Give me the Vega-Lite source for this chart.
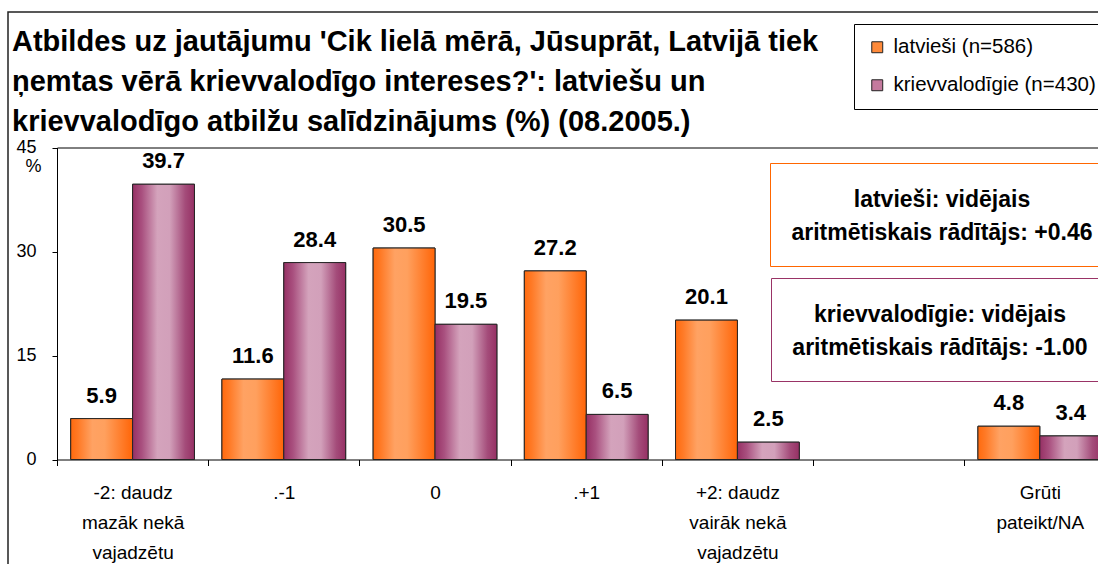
{
  "$schema": "https://vega.github.io/schema/vega-lite/v6.json",
  "width": 1091,
  "height": 553,
  "autosize": {"type": "none"},
  "padding": {"left": 8, "top": 12, "right": -1, "bottom": -1},
  "background": "white",
  "title": {
    "text": [
      "Atbildes uz jautājumu 'Cik lielā mērā, Jūsuprāt, Latvijā tiek",
      "ņemtas vērā krievvalodīgo intereses?': latviešu un",
      "krievvalodīgo atbilžu salīdzinājums (%) (08.2005.)"
    ],
    "anchor": "start",
    "frame": "group",
    "orient": "top",
    "offset": 0,
    "dx": 4,
    "dy": 125,
    "baseline": "top",
    "fontSize": 29,
    "fontWeight": "bold",
    "font": "Liberation Sans",
    "lineHeight": 40,
    "color": "#000"
  },
  "datasets": {
    "bars": [
      {"cat": "-2: daudz|mazāk nekā|vajadzētu", "group": "latvieši (n=586)", "value": 5.9},
      {"cat": "-2: daudz|mazāk nekā|vajadzētu", "group": "krievvalodīgie (n=430)", "value": 39.7},
      {"cat": ".-1", "group": "latvieši (n=586)", "value": 11.6},
      {"cat": ".-1", "group": "krievvalodīgie (n=430)", "value": 28.4},
      {"cat": "0", "group": "latvieši (n=586)", "value": 30.5},
      {"cat": "0", "group": "krievvalodīgie (n=430)", "value": 19.5},
      {"cat": ".+1", "group": "latvieši (n=586)", "value": 27.2},
      {"cat": ".+1", "group": "krievvalodīgie (n=430)", "value": 6.5},
      {"cat": "+2: daudz|vairāk nekā|vajadzētu", "group": "latvieši (n=586)", "value": 20.1},
      {"cat": "+2: daudz|vairāk nekā|vajadzētu", "group": "krievvalodīgie (n=430)", "value": 2.5},
      {"cat": "Grūti|pateikt/NA", "group": "latvieši (n=586)", "value": 4.8},
      {"cat": "Grūti|pateikt/NA", "group": "krievvalodīgie (n=430)", "value": 3.4}
    ],
    "noteLv": [
      {"group": "latvieši", "mean": "+0.46"}
    ],
    "noteRu": [
      {"group": "krievvalodīgie", "mean": "-1.00"}
    ]
  },
  "layer": [
    {
      "data": {"name": "bars"},
      "mark": {"type": "bar", "stroke": "#262626", "strokeWidth": 1},
      "encoding": {
        "x": {
          "field": "cat",
          "type": "nominal",
          "scale": {
            "domain": ["-2: daudz|mazāk nekā|vajadzētu", ".-1", "0", ".+1", "+2: daudz|vairāk nekā|vajadzētu", " ", "Grūti|pateikt/NA"],
            "range": [49, 1107.4],
            "paddingInner": 0,
            "paddingOuter": 0
          },
          "axis": {
            "orient": "bottom",
            "offset": -105.5,
            "tickBand": "extent",
            "tickSize": 6,
            "labelExpr": "split(datum.label, '|')",
            "labelFontSize": 19,
            "labelLineHeight": 30,
            "labelPadding": 18,
            "labelAngle": 0,
            "labelLimit": 300,
            "title": null,
            "grid": false,
            "domainColor": "#000",
            "tickColor": "#000",
            "labelColor": "#000"
          }
        },
        "xOffset": {
          "field": "group",
          "type": "nominal",
          "scale": {"domain": ["latvieši (n=586)", "krievvalodīgie (n=430)"], "paddingInner": 0, "paddingOuter": 0.222}
        },
        "y": {
          "field": "value",
          "type": "quantitative",
          "scale": {"domain": [0, 45], "range": [447.5, 135.5], "nice": false, "zero": true},
          "axis": {
            "orient": "left",
            "offset": -49,
            "values": [0, 15, 30, 45],
            "tickSize": 5,
            "labelFontSize": 18,
            "labelPadding": 16,
            "title": "%",
            "titleAngle": 0,
            "titleX": -24,
            "titleY": 159,
            "titleAlign": "center",
            "titleBaseline": "alphabetic",
            "titleFontSize": 18,
            "titleFontWeight": "normal",
            "grid": false,
            "domainColor": "#000",
            "tickColor": "#000",
            "labelColor": "#000",
            "titleColor": "#000"
          }
        },
        "color": {
          "field": "group",
          "type": "nominal",
          "scale": {
            "domain": ["latvieši (n=586)", "krievvalodīgie (n=430)"],
            "range": ["#FF8A3A", "#C47A9E"]
          },
          "legend": {
            "title": null,
            "orient": "none",
            "legendX": 846,
            "legendY": 12,
            "strokeColor": "#000",
            "fillColor": "#fff",
            "padding": 13,
            "rowPadding": 17,
            "labelFontSize": 20.5,
            "labelColor": "#000",
            "labelLimit": 400,
            "labelOffset": 6,
            "symbolType": "square",
            "symbolSize": 120,
            "symbolStrokeColor": "#222",
            "symbolStrokeWidth": 1
          }
        }
      }
    },
    {
      "data": {"name": "bars"},
      "transform": [{"filter": "datum.group === 'latvieši (n=586)'"}],
      "mark": {
        "type": "bar",
        "stroke": "#262626",
        "strokeWidth": 1,
        "fill": {"gradient": "linear", "x1": 0, "y1": 0, "x2": 1, "y2": 0, "stops": [
          {"offset": 0, "color": "#FF6A0E"},
          {"offset": 0.12, "color": "#FF7A26"},
          {"offset": 0.35, "color": "#FFA263"},
          {"offset": 0.55, "color": "#FFA05E"},
          {"offset": 0.8, "color": "#FF7F2E"},
          {"offset": 1, "color": "#FF6508"}
        ]}
      },
      "encoding": {
        "x": {"field": "cat", "type": "nominal", "axis": null},
        "xOffset": {"field": "group", "type": "nominal"},
        "y": {"field": "value", "type": "quantitative"}
      }
    },
    {
      "data": {"name": "bars"},
      "transform": [{"filter": "datum.group === 'krievvalodīgie (n=430)'"}],
      "mark": {
        "type": "bar",
        "stroke": "#262626",
        "strokeWidth": 1,
        "fill": {"gradient": "linear", "x1": 0, "y1": 0, "x2": 1, "y2": 0, "stops": [
          {"offset": 0, "color": "#963064"},
          {"offset": 0.15, "color": "#A9507F"},
          {"offset": 0.4, "color": "#D4A3BC"},
          {"offset": 0.6, "color": "#D2A0BA"},
          {"offset": 0.85, "color": "#A44C7A"},
          {"offset": 1, "color": "#963064"}
        ]}
      },
      "encoding": {
        "x": {"field": "cat", "type": "nominal", "axis": null},
        "xOffset": {"field": "group", "type": "nominal"},
        "y": {"field": "value", "type": "quantitative"}
      }
    },
    {
      "data": {"name": "bars"},
      "mark": {"type": "text", "fontSize": 22, "fontWeight": "bold", "baseline": "alphabetic", "dy": -16, "color": "#000"},
      "encoding": {
        "x": {
          "field": "cat",
          "type": "nominal",
          "axis": {"orient": "top", "offset": -135.5, "labels": false, "ticks": false, "domain": true, "domainColor": "#000", "title": null, "grid": false}
        },
        "xOffset": {"field": "group", "type": "nominal"},
        "y": {"field": "value", "type": "quantitative"},
        "text": {"field": "value", "type": "quantitative", "format": ".1f"}
      }
    },
    {
      "data": {"name": "noteLv"},
      "mark": {"type": "point", "opacity": 0},
      "encoding": {
        "shape": {
          "field": "group",
          "type": "nominal",
          "legend": {
            "title": ["latvieši: vidējais", "aritmētiskais rādītājs: +0.46"],
            "titleOrient": "bottom",
            "titleFontSize": 23,
            "titleFontWeight": "bold",
            "titleColor": "#000",
            "titleFont": "Liberation Sans",
            "titleAlign": "center",
            "titleAnchor": "middle",
            "titleLineHeight": 33,
            "titlePadding": 0,
            "titleLimit": 1000,
            "orient": "none",
            "legendX": 762,
            "legendY": 151,
            "strokeColor": "#FF6600",
            "fillColor": "#fff",
            "padding": 21,
            "rowPadding": 0,
            "labelExpr": "''",
            "labelFontSize": 0,
            "labelOffset": 0,
            "symbolSize": 0,
            "symbolOpacity": 0,
            "symbolStrokeWidth": 0
          }
        }
      }
    },
    {
      "data": {"name": "noteRu"},
      "mark": {"type": "point", "opacity": 0},
      "encoding": {
        "shape": {
          "field": "group",
          "type": "nominal",
          "legend": {
            "title": ["krievvalodīgie: vidējais", "aritmētiskais rādītājs: -1.00"],
            "titleOrient": "bottom",
            "titleFontSize": 23,
            "titleFontWeight": "bold",
            "titleColor": "#000",
            "titleFont": "Liberation Sans",
            "titleAlign": "center",
            "titleAnchor": "middle",
            "titleLineHeight": 33,
            "titlePadding": 0,
            "titleLimit": 1000,
            "orient": "none",
            "legendX": 763,
            "legendY": 266,
            "strokeColor": "#993366",
            "fillColor": "#fff",
            "padding": 21,
            "rowPadding": 0,
            "labelExpr": "''",
            "labelFontSize": 0,
            "labelOffset": 0,
            "symbolSize": 0,
            "symbolOpacity": 0,
            "symbolStrokeWidth": 0
          }
        }
      }
    }
  ],
  "resolve": {
    "axis": {"x": "independent"},
    "scale": {"shape": "independent"},
    "legend": {"shape": "independent"}
  },
  "config": {
    "view": {"stroke": "#222", "strokeWidth": 1.5},
    "font": "Liberation Sans",
    "axis": {"grid": false, "labelFont": "Liberation Sans"},
    "legend": {"labelFont": "Liberation Sans"}
  }
}
